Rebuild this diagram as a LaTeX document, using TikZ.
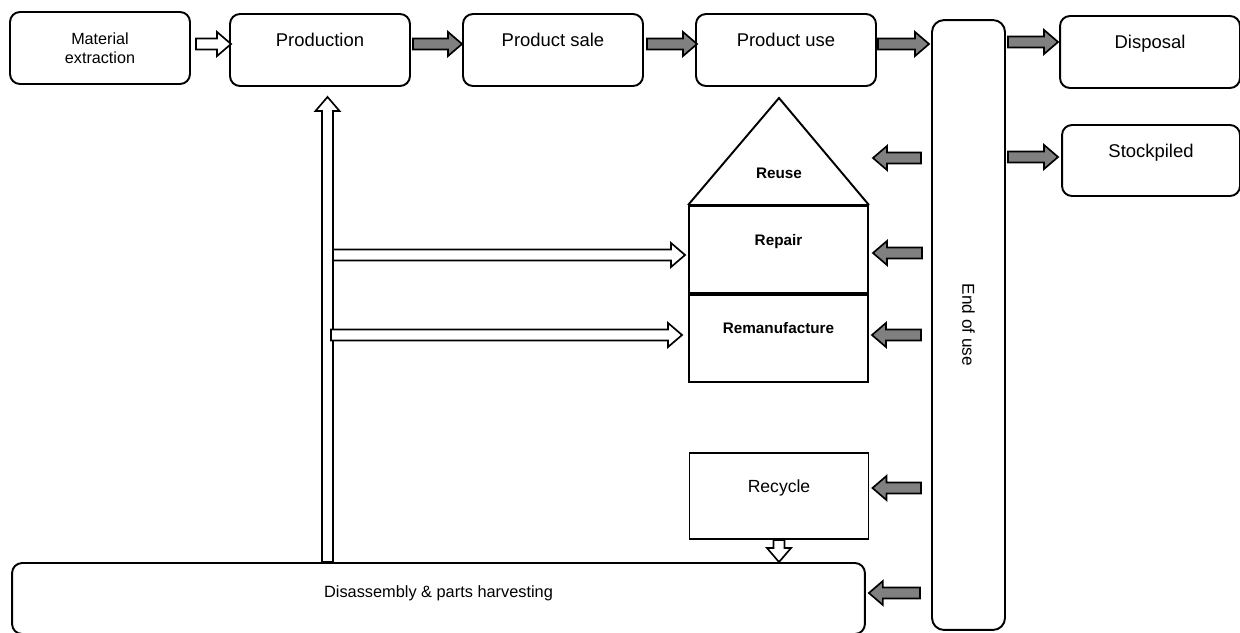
\documentclass[tikz,border=0pt]{standalone}
\usepackage{fontspec}
\setmainfont{Liberation Sans}
\usetikzlibrary{calc}

\newcommand{\shafthw}{0.11cm}
\newcommand{\headhw}{0.24cm}
\newcommand{\headlen}{0.28cm}
\newcommand{\blockarrow}[3][white]{%
 \coordinate (ba-s) at (#2);
 \coordinate (ba-e) at (#3);
 \coordinate (ba-h) at ($(ba-e)!\headlen!(ba-s)$);
 \draw[blockline, fill=#1] ($(ba-s)!\shafthw!90:(ba-e)$) -- ($(ba-h)!\shafthw!-90:(ba-s)$)
   -- ($(ba-h)!\headhw!-90:(ba-s)$) -- (ba-e) -- ($(ba-h)!\headhw!90:(ba-s)$)
   -- ($(ba-h)!\shafthw!90:(ba-s)$) -- ($(ba-s)!\shafthw!-90:(ba-e)$) -- cycle;
}

\tikzset{
 box/.style={draw, line width=1.1pt, rounded corners=0.2cm, minimum width=3.6cm, minimum height=1.44cm, font=\fontsize{10.5}{12.6}\selectfont},
 topbox/.style={box, text depth=0.4cm},
 sect/.style={draw, line width=1.1pt, minimum width=3.58cm, text depth=0.4cm, font=\bfseries\fontsize{8.7}{10}\selectfont},
 blockline/.style={line width=0.95pt, line join=miter},
}

\begin{document}
\begin{tikzpicture}[x=0.02cm,y=-0.02cm]
\useasboundingbox (0,0) rectangle (1240,632);

\node[box, align=center, font=\fontsize{9.2}{10.8}\selectfont] (matex) at (100,48) {Material\\extraction};
\node[topbox] (prod) at (320,50) {Production};
\node[topbox] (sale) at (553,50) {Product sale};
\node[topbox] (use) at (786,50) {Product use};
\node[box, minimum width=1.46cm, minimum height=12.2cm, rounded corners=0.24cm, font=\fontsize{9.8}{11}\selectfont] (eou) at (968.5,325) {\rotatebox{-90}{End of use}};
\node[topbox] (disp) at (1150,52) {Disposal};
\node[topbox, minimum width=3.56cm, minimum height=1.42cm] (stock) at (1151,160.5) {Stockpiled};

\node[sect, minimum height=1.74cm] (repair) at (778.5,249.5) {Repair};
\node[sect, minimum height=1.74cm, anchor=north] (reman) at (repair.south) {Remanufacture};
\coordinate (apex) at (779,98);
\draw[line width=1.1pt, line join=miter] (repair.north west) -- (apex) -- (repair.north east);
\draw[line width=1.7pt] (repair.north west) -- (repair.north east);
\node[font=\bfseries\fontsize{8.7}{10}\selectfont] (reuse) at (779,173) {Reuse};
\node[sect, minimum height=1.72cm, font=\fontsize{10}{12}\selectfont] (recycle) at (779,496) {Recycle};

\node[box, text depth=0.28cm, minimum width=17.06cm, minimum height=1.42cm, font=\fontsize{9.3}{11}\selectfont] (disas) at (438.5,598.5) {Disassembly \& parts harvesting};

\blockarrow{$(matex.east |- 0,44)+(5,0)$}{$(prod.west |- 0,44)+(2,0)$}
\blockarrow[gray]{$(prod.east |- 0,44)+(2,0)$}{sale.west |- 0,44}
\blockarrow[gray]{$(sale.east |- 0,44)+(3,0)$}{$(use.west |- 0,44)+(2,0)$}
\blockarrow[gray]{$(use.east |- 0,44)+(1,0)$}{$(eou.west |- 0,44)+(-2,0)$}
\blockarrow[gray]{$(eou.east |- 0,42)+(2,0)$}{$(disp.west |- 0,42)+(-1,0)$}
\blockarrow[gray]{$(eou.east |- 0,157)+(2,0)$}{$(stock.west |- 0,157)+(-3,0)$}

\blockarrow[gray]{$(eou.west |- 0,158)+(-10,0)$}{$(repair.east |- 0,158)+(4,0)$}
\blockarrow[gray]{$(eou.west |- 0,253)+(-9,0)$}{$(repair.east |- 0,253)+(4,0)$}
\blockarrow[gray]{$(eou.west |- 0,335)+(-10,0)$}{$(reman.east |- 0,335)+(3,0)$}
\blockarrow[gray]{$(eou.west |- 0,488)+(-10,0)$}{$(recycle.east |- 0,488)+(3,0)$}
\blockarrow[gray]{$(eou.west |- 0,593)+(-11,0)$}{$(disas.east |- 0,593)+(3,0)$}

\blockarrow{disas.north -| 327.5,0}{$(prod.south -| 327.5,0)+(0,10)$}
\blockarrow{333,255}{$(repair.west |- 0,255)+(-3,0)$}
\blockarrow{331,335}{$(reman.west |- 0,335)+(-6,0)$}
\blockarrow{recycle.south}{recycle.south |- disas.north}
\end{tikzpicture}
\end{document}
